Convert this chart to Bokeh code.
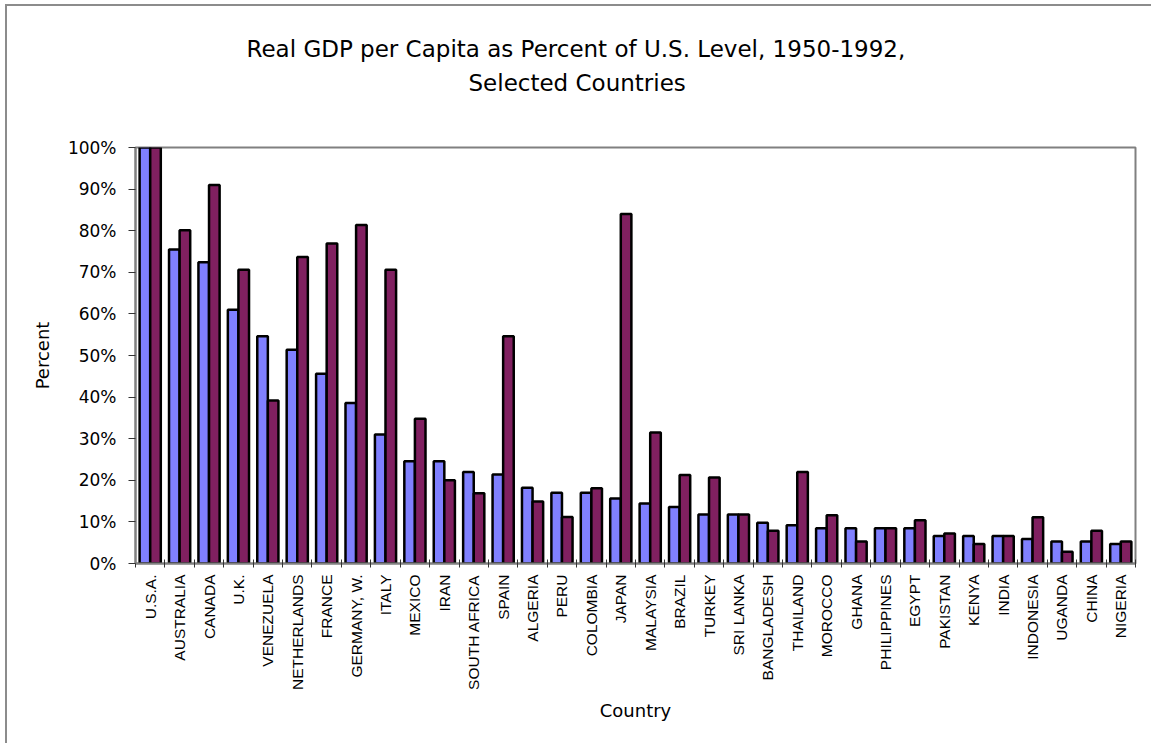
import numpy as np
from bokeh.plotting import figure
from bokeh.models import ColumnDataSource, FixedTicker, NumeralTickFormatter, Range1d, Title
from bokeh.transform import dodge
from bokeh.embed import file_html
from bokeh.resources import INLINE

countries = ["U.S.A.", "AUSTRALIA", "CANADA", "U.K.", "VENEZUELA", "NETHERLANDS", "FRANCE",
             "GERMANY, W.", "ITALY", "MEXICO", "IRAN", "SOUTH AFRICA", "SPAIN", "ALGERIA", "PERU",
             "COLOMBIA", "JAPAN", "MALAYSIA", "BRAZIL", "TURKEY", "SRI LANKA", "BANGLADESH",
             "THAILAND", "MOROCCO", "GHANA", "PHILIPPINES", "EGYPT", "PAKISTAN", "KENYA", "INDIA",
             "INDONESIA", "UGANDA", "CHINA", "NIGERIA"]
gdp_1950 = [100, 75.5, 72.4, 61.0, 54.6, 51.4, 45.6, 38.6, 31.0, 24.6, 24.6, 22.0, 21.4, 18.2, 17.0,
            17.0, 15.6, 14.4, 13.6, 11.8, 11.8, 9.8, 9.2, 8.5, 8.5, 8.5, 8.5, 6.6, 6.6, 6.6,
            5.9, 5.3, 5.3, 4.7]
gdp_1992 = [100, 80.1, 91.0, 70.6, 39.2, 73.7, 76.9, 81.4, 70.6, 34.8, 20.0, 16.9, 54.6, 14.9, 11.2,
            18.1, 84.0, 31.5, 21.3, 20.7, 11.8, 7.9, 22.0, 11.6, 5.3, 8.5, 10.4, 7.2, 4.7, 6.6,
            11.1, 2.8, 7.9, 5.3]
y_ticks = [0.0, 0.1, 0.2, 0.3, 0.4, 0.5, 0.6, 0.7, 0.8, 0.9, 1.0]
title_lines = ["Real GDP per Capita as Percent of U.S. Level, 1950-1992,", "Selected Countries"]

n = len(countries)
centers = [i + 0.5 for i in range(n)]
src = ColumnDataSource(dict(x=centers,
                            a=[v / 100 for v in gdp_1950],
                            b=[v / 100 for v in gdp_1992]))

p = figure(width=1146, height=739, x_range=Range1d(0, n), y_range=Range1d(0, 1),
           output_backend="svg", toolbar_location=None,
           min_border_left=128, min_border_right=18, min_border_top=141, min_border_bottom=182)
p.margin = (4, 0, 0, 5)
p.styles = {"border-left": "2px solid #8c8c8c", "border-top": "2px solid #8c8c8c"}

p.vbar(x=dodge('x', -0.18, range=p.x_range), top='a', width=0.36, fill_color="#8080FF",
       line_color="black", line_width=2.5, source=src)
p.vbar(x=dodge('x', 0.18, range=p.x_range), top='b', width=0.36, fill_color="#802060",
       line_color="black", line_width=2.5, source=src)

p.xgrid.visible = False
p.ygrid.visible = False
p.outline_line_color = "#808080"
p.outline_line_width = 2

xa = p.xaxis[0]
xa.ticker = FixedTicker(ticks=centers, minor_ticks=list(range(n + 1)))
xa.major_label_overrides = {c: name for c, name in zip(centers, countries)}
xa.major_label_orientation = np.pi / 2
xa.major_tick_line_color = None
xa.major_tick_in = 0
xa.major_tick_out = 0
xa.minor_tick_in = 4
xa.minor_tick_out = 4
xa.minor_tick_line_color = "#333333"
xa.axis_line_color = "#808080"
xa.axis_line_width = 2
xa.major_label_text_font = "Liberation Sans"
xa.major_label_text_font_size = "15.5px"
xa.major_label_text_color = "black"
xa.major_label_standoff = 7
xa.axis_label = "Country"
xa.axis_label_text_font = "DejaVu Sans"
xa.axis_label_text_font_size = "18px"
xa.axis_label_text_font_style = "normal"
xa.axis_label_text_color = "black"
xa.axis_label_standoff = 7

ya = p.yaxis[0]
ya.ticker = FixedTicker(ticks=y_ticks, minor_ticks=[])
ya.formatter = NumeralTickFormatter(format="0%")
ya.major_tick_in = 0
ya.major_tick_out = 7
ya.major_tick_line_color = "#333333"
ya.minor_tick_line_color = None
ya.axis_line_color = "#808080"
ya.axis_line_width = 2
ya.major_label_text_font = "DejaVu Sans"
ya.major_label_text_font_size = "17px"
ya.major_label_text_color = "black"
ya.major_label_standoff = 12
ya.axis_label = "Percent"
ya.axis_label_text_font = "DejaVu Sans"
ya.axis_label_text_font_size = "18px"
ya.axis_label_text_font_style = "normal"
ya.axis_label_text_color = "black"
ya.axis_label_standoff = 12

p.title = None
t2 = Title(text=title_lines[1], align="left", offset=333, standoff=103,
           text_font="DejaVu Sans", text_font_size="23px", text_font_style="normal",
           text_color="black")
t1 = Title(text=title_lines[0], align="left", offset=111, standoff=-91,
           text_font="DejaVu Sans", text_font_size="23px", text_font_style="normal",
           text_color="black")
p.add_layout(t2, "above")
p.add_layout(t1, "above")

open("out.html", "w").write(file_html(p, INLINE))
